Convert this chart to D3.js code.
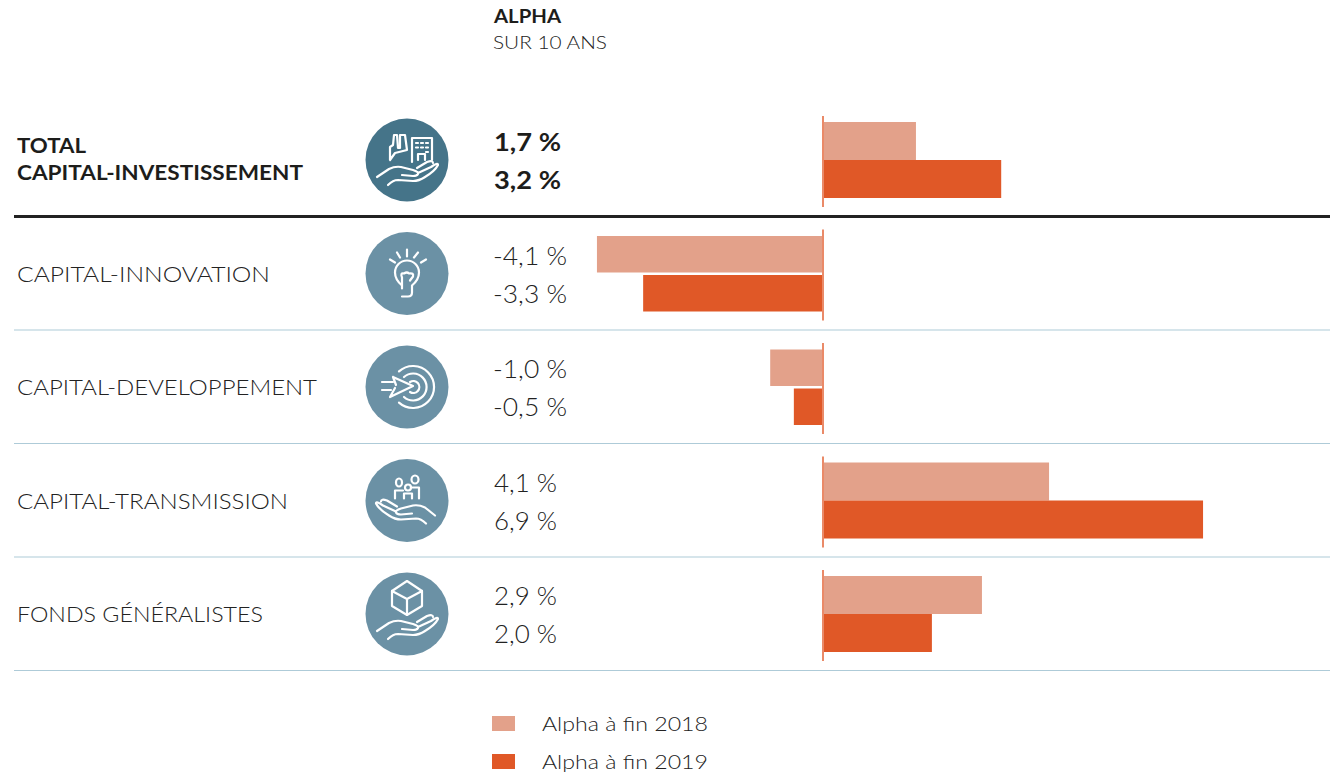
<!DOCTYPE html>
<html>
<head>
<meta charset="utf-8">
<script src="https://cdn.jsdelivr.net/npm/d3@7"></script>
<style>
  html, body { margin: 0; padding: 0; background: #fff; }
  svg { display: block; }
  text { font-family: "Lato", sans-serif; fill: #222; font-weight: 300; }
  text.strong { font-weight: 700; fill: #1d1d1b; }
</style>
</head>
<body>
<svg id="canvas"></svg>
<script>
const categories = [
  ["TOTAL", "CAPITAL-INVESTISSEMENT"],
  ["CAPITAL-INNOVATION"],
  ["CAPITAL-DEVELOPPEMENT"],
  ["CAPITAL-TRANSMISSION"],
  ["FONDS GÉNÉRALISTES"],
];
const alpha2018 = [1.69, -4.11, -0.96, 4.11, 2.89];
const alpha2019 = [3.24, -3.27, -0.53, 6.91, 1.98];
const seriesNames = ["Alpha à fin 2018", "Alpha à fin 2019"];
const iconNames = ["factory", "bulb", "target", "people", "box"];

const width = 1330;
const height = 775;
const colors = ["#e3a18a", "#e05827"];

const canvas = d3.select("#canvas").attr("width", width).attr("height", height);

const xScale = d3.scaleLinear().domain([0, 1]).range([823, 878]);
const rowScale = d3.scaleLinear().domain([0, 4]).range([160, 614]);
const frFormat = d3.formatLocale({ decimal: ",", thousands: " ", grouping: [3], currency: ["", " €"] }).format(".1f");

// the original font is wider than Lato, so stretch each text to the measured width
const fit = (sel, w) => sel.attr("textLength", w).attr("lengthAdjust", "spacingAndGlyphs");

// header
fit(canvas.append("text").attr("class", "strong").attr("x", 494).attr("y", 23).attr("font-size", 19).text("ALPHA"), 67);
fit(canvas.append("text").attr("x", 493).attr("y", 49).attr("font-size", 18).text("SUR 10 ANS"), 114);

const hand = "M-30 17 L-18 9 Q-12 6 -6 7 L6 10 Q12 12 11 14 Q10 16 6 16 L-5 15 M11 13 L24 7 Q31 2 31 5 Q28 11 18 17 Q12 21 6 21 L-9 20 Q-14 20 -19 25 M10 8 L20 2 Q26 0 26 3";
const handFlip = "M28 15 L18 7 Q12 4 6 5 L-6 8 Q-12 10 -11 12 Q-10 14 -6 14 L5 13 M-11 11 L-24 5 Q-31 0 -31 3 Q-28 9 -18 15 Q-12 19 -6 19 L9 18 Q14 18 19 23 M-10 6 L-20 0 Q-26 -2 -26 1";

const iconPaths = {
  factory: [hand,
    "M-17 0 L-17 -13 L-14 -15 L-13 -25 L-10 -25 L-9 -12 L-7 -12 L-7 -25 L-2 -25 L0 -10 L-12 -7 L-17 0",
    "M5 2 L5 -22 L25 -22 L25 0 M11 0 L11 -6 L18 -6 L18 0",
    "M9 -17 h2 M14 -17 h2 M19 -17 h2 M9 -12.5 h2 M14 -12.5 h2 M19 -12.5 h2 M19 -8 h2"],
  bulb: ["M-5 15 L-5 12 Q-12 6 -12 -1 A12 12 0 1 1 12 -1 Q12 6 5 12 L5 19 Q5 23 1 23 L-5 23",
    "M-5 12 L-5 4 Q-7 -1 -3 0 Q0 -2 2 0 Q7 -1 6 3 L3 7",
    "M0 -24 L0 -17 M-10 -21 L-7 -16 M11 -21 L7 -16 M-17 -14 L-12 -11 M19 -14 L14 -11"],
  target: ["M-25 -5 L-14 -5 M-25 3 L-16 3", "M-14 -10 L6 -1 L-17 10 L-12 1 M-14 -10 L-11 -2",
    "M-8 -15.6 A21 21 0 1 1 -8 15.6", "M-3 -10 A13.5 13.5 0 1 1 -3 10", "M3 -5 A6 6 0 1 1 3 5"],
  people: [handFlip,
    "M-12 -2 L-12 -10 L-4 -10 M-3 -2 L-3 -7 L5 -7 L5 -2 M4 -13 L12 -13 L12 -2",
    "M-11 -18 a3 4 0 1 0 6 0 a3 4 0 1 0 -6 0 M-2 -13 a3 3 0 1 0 6 0 a3 3 0 1 0 -6 0 M4.5 -21 a3.5 4 0 1 0 7 0 a3.5 4 0 1 0 -7 0"],
  box: [hand, "M0 -33 L15 -23 L15 -8 L0 1 L-15 -8 L-15 -23 Z", "M-15 -23 L0 -15 L15 -23 M0 -15 L0 1"],
};

const catWidths = [[69, 286], [253], [300], [271], [246]];

const rows = canvas.selectAll("g.row").data(categories).enter().append("g").attr("class", "row");

// category labels
rows.each(function (d, i) {
  const total = i === 0;
  const y = total ? 153 : rowScale(i) + 8;
  d3.select(this).selectAll("text.cat").data(d).enter().append("text")
    .attr("class", total ? "cat strong" : "cat")
    .attr("x", 17)
    .attr("y", (t, k) => y + k * 27)
    .attr("font-size", total ? 21.5 : 22)
    .attr("textLength", (t, k) => catWidths[i][k])
    .attr("lengthAdjust", "spacingAndGlyphs")
    .text((t) => t);
});

// icons
rows.each(function (d, i) {
  const g = d3.select(this).append("g").attr("transform", `translate(407, ${rowScale(i)})`);
  g.append("circle").attr("r", 41.5).attr("fill", i === 0 ? "#457489" : "#6b91a5");
  g.selectAll("path").data(iconPaths[iconNames[i]]).enter().append("path")
    .attr("d", (p) => p)
    .attr("fill", "none")
    .attr("stroke", "#fff")
    .attr("stroke-width", 2.2)
    .attr("stroke-linecap", "round")
    .attr("stroke-linejoin", "round");
});

// bars, values and zero line (negative rows leave a small gap between the two bars)
[alpha2018, alpha2019].forEach((series, s) => {
  canvas.selectAll(`rect.bar${s}`).data(series).enter().append("rect")
    .attr("class", `bar${s}`)
    .attr("x", (d) => Math.min(xScale(d), xScale(0)))
    .attr("y", (d, i) => {
      if (d < 0) return rowScale(i) + (s === 0 ? -37.5 : 1.5);
      return rowScale(i) + (s === 0 ? -38 : 0);
    })
    .attr("width", (d) => Math.abs(xScale(d) - xScale(0)))
    .attr("height", (d) => (d < 0 ? 36.5 : 38))
    .attr("fill", colors[s]);

  canvas.selectAll(`text.val${s}`).data(series).enter().append("text")
    .attr("class", (d, i) => (i === 0 ? `val${s} strong` : `val${s}`))
    .attr("x", (d) => (d < 0 ? 493 : 494))
    .attr("y", (d, i) => rowScale(i) + (s === 0 ? -9 : 29))
    .attr("font-size", 25)
    .attr("textLength", (d, i) => (i === 0 ? 67 : d < 0 ? 74 : 63))
    .attr("lengthAdjust", "spacingAndGlyphs")
    .text((d) => frFormat(d).replace("−", "-") + " %");
});

canvas.selectAll("line.zero").data(categories).enter().append("line")
  .attr("class", "zero")
  .attr("x1", xScale(0)).attr("x2", xScale(0))
  .attr("y1", (d, i) => rowScale(i) - 44)
  .attr("y2", (d, i) => rowScale(i) + 47)
  .attr("stroke", "#ea8a68")
  .attr("stroke-width", 2);

// separators
const sepY = [216.5, 330, 443.5, 557, 670.5];
canvas.selectAll("line.sep").data(sepY).enter().append("line")
  .attr("class", "sep")
  .attr("x1", 14).attr("x2", 1330)
  .attr("y1", (d) => d).attr("y2", (d) => d)
  .attr("stroke", (d, i) => (i === 0 ? "#222" : "#aecbd8"))
  .attr("stroke-width", (d, i) => (i === 0 ? 3 : 1.2));

// legend
const legend = canvas.selectAll("g.legend").data(seriesNames).enter().append("g").attr("class", "legend")
  .attr("transform", (d, i) => `translate(0, ${716 + i * 38})`);
legend.append("rect").attr("x", 492).attr("width", 23).attr("height", 15).attr("fill", (d, i) => colors[i]);
legend.append("text").attr("x", 542).attr("y", 15).attr("font-size", 20)
  .attr("textLength", 166).attr("lengthAdjust", "spacingAndGlyphs").text((d) => d);
</script>
</body>
</html>
